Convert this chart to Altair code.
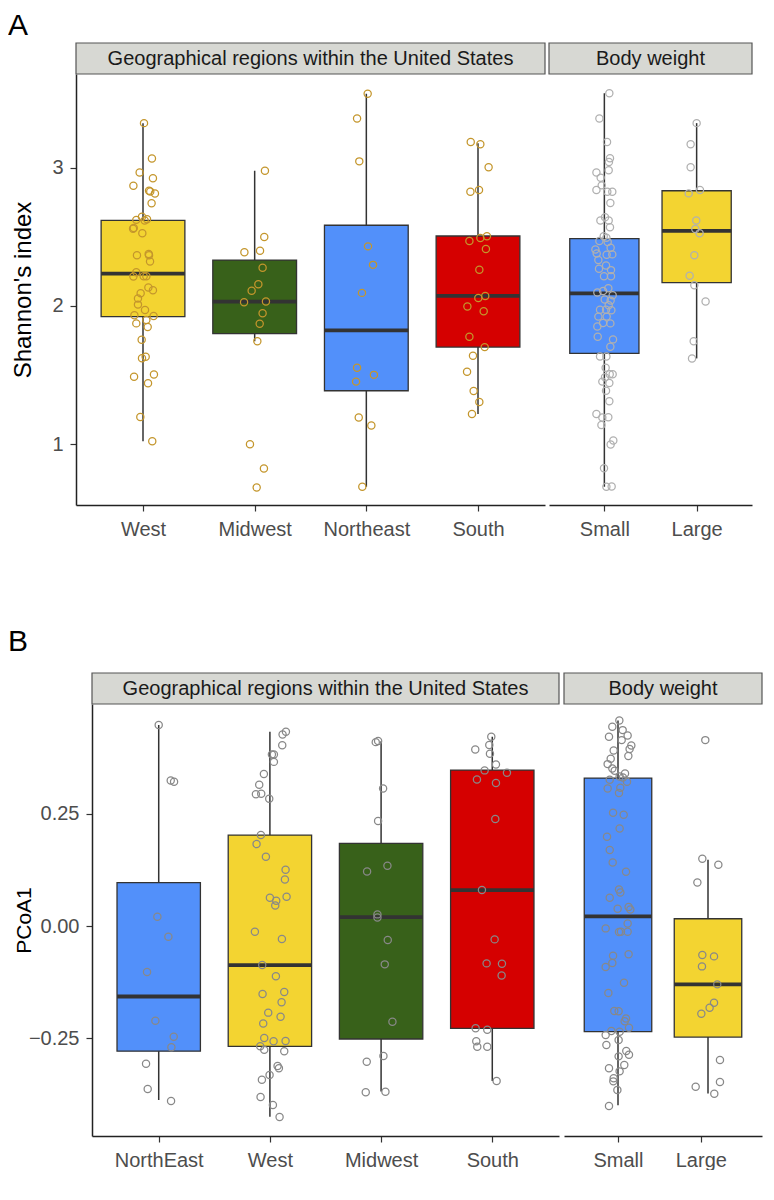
import json
import altair as alt
import pandas as pd

FONT = "Liberation Sans"

# ---------------- Panel A : Shannon's index ----------------
a_geo_cats = ["West", "Midwest", "Northeast", "South"]
a_bw_cats = ["Small", "Large"]

a_west_y = [3.325, 3.068, 2.968, 2.925, 2.871, 2.835, 2.83, 2.815, 2.745, 2.646,
            2.624, 2.629, 2.62, 2.565, 2.56, 2.527, 2.367, 2.376, 2.367, 2.323,
            2.245, 2.214, 2.215, 2.215, 2.134, 2.114, 2.092, 2.054, 2.01, 1.971,
            1.933, 1.928, 1.874, 1.899, 1.848, 1.755, 1.622, 1.632, 1.488, 1.503,
            1.44, 1.195, 1.02]
a_west_jit = [0.009, 0.080, -0.030, 0.089, -0.086, 0.054, 0.065, 0.107, 0.077, -0.009,
              -0.060, 0.036, 0.015, -0.083, -0.089, -0.006, -0.054, 0.051, 0.054, 0.063,
              -0.060, -0.086, 0.006, 0.030, 0.048, 0.089, -0.021, -0.045, -0.045, 0.018,
              -0.077, 0.095, -0.060, 0.030, 0.042, -0.012, -0.009, 0.024, -0.080, 0.098,
              0.045, -0.024, 0.083]
a_midwest_y = [2.98, 2.50, 2.389, 2.401, 2.277, 2.158, 2.11, 2.027, 2.032, 1.947,
               1.872, 1.745, 0.998, 0.823, 0.685]
a_midwest_jit = [0.092, 0.086, -0.092, 0.048, 0.071, 0.033, -0.027, -0.095, 0.101, 0.071,
                 0.045, 0.024, -0.042, 0.083, 0.018]
a_northeast_y = [3.538, 3.359, 3.048, 2.432, 2.298, 2.095, 1.552, 1.501, 1.452, 1.192,
                 1.134, 0.69]
a_northeast_jit = [0.012, -0.083, -0.063, 0.015, 0.060, -0.039, -0.083, 0.068, -0.092, -0.068,
                   0.045, -0.036]
a_south_y = [3.189, 3.172, 3.005, 2.828, 2.84, 2.471, 2.493, 2.505, 2.413, 2.262,
             2.058, 2.073, 1.996, 1.962, 1.777, 1.702, 1.639, 1.523, 1.384, 1.304, 1.217]
a_south_jit = [-0.065, 0.021, 0.095, -0.068, 0.009, -0.077, 0.021, 0.080, 0.071, 0.012,
               0.003, 0.065, -0.095, 0.051, -0.077, 0.060, -0.045, -0.098, -0.039, 0.012, -0.054]
a_small_y = [3.541, 3.359, 3.189, 3.07, 3.044, 2.968, 2.983, 2.929, 2.874, 2.84,
             2.828, 2.828, 2.747, 2.643, 2.619, 2.619, 2.57, 2.505, 2.495, 2.471,
             2.464, 2.41, 2.422, 2.381, 2.374, 2.372, 2.333, 2.294, 2.27, 2.26,
             2.216, 2.216, 2.129, 2.097, 2.109, 2.078, 2.047, 2.039, 2.005, 1.973,
             1.973, 1.969, 1.923, 1.923, 1.852, 1.876, 1.874, 1.777, 1.758, 1.704,
             1.634, 1.634, 1.552, 1.505, 1.505, 1.483, 1.452, 1.442, 1.386, 1.309,
             1.217, 1.192, 1.194, 1.137, 1.025, 0.996, 0.824, 0.69, 0.692]
a_small_jit = [0.054, -0.054, 0.029, 0.061, 0.050, -0.086, 0.047, -0.040, -0.029, -0.086,
               0.032, 0.086, 0.065, 0.007, -0.043, 0.047, 0.061, -0.007, 0.022, -0.054,
               0.036, -0.097, 0.068, -0.083, 0.086, 0.025, -0.065, 0.018, -0.058, 0.072,
               -0.004, 0.072, 0.043, -0.076, -0.014, 0.090, 0.004, 0.068, 0.047, -0.047,
               0.018, 0.076, -0.065, 0.025, -0.076, -0.014, 0.065, -0.072, 0.094, 0.065,
               -0.047, 0.022, 0.014, 0.058, 0.090, 0.007, -0.022, 0.054, 0.018, 0.054,
               -0.086, -0.022, 0.043, -0.032, 0.097, 0.068, -0.004, 0.022, 0.079]
a_large_y = [3.325, 3.172, 3.005, 2.816, 2.84, 2.619, 2.558, 2.527, 2.367, 2.219,
             2.151, 2.032, 1.745, 1.619]
a_large_jit = [0.0, -0.065, -0.065, -0.086, 0.036, -0.004, -0.014, 0.032, -0.025, -0.076,
               -0.025, 0.097, -0.032, -0.050]

# box statistics (lower whisker, q1, median, q3, upper whisker)
a_geo_lo = [1.02, 1.745, 0.69, 1.217]
a_geo_q1 = [1.923, 1.80, 1.386, 1.702]
a_geo_med = [2.234, 2.032, 1.823, 2.073]
a_geo_q3 = [2.62, 2.333, 2.585, 2.507]
a_geo_hi = [3.325, 2.98, 3.538, 3.18]
a_geo_fill = ["#f3d431", "#38611a", "#5290fa", "#d50000"]

a_bw_lo = [0.69, 1.62]
a_bw_q1 = [1.656, 2.17]
a_bw_med = [2.092, 2.544]
a_bw_q3 = [2.488, 2.835]
a_bw_hi = [3.541, 3.325]
a_bw_fill = ["#5290fa", "#f3d431"]

# ---------------- Panel B : PCoA1 ----------------
b_geo_cats = ["NorthEast", "West", "Midwest", "South"]
b_bw_cats = ["Small", "Large"]

b_northeast_y = [0.448, 0.3247, 0.3217, 0.0208, -0.0238, -0.1025, -0.211, -0.2466, -0.270, -0.307,
                 -0.363, -0.39]
b_northeast_jit = [0.0, 0.108, 0.138, -0.012, 0.087, -0.105, -0.030, 0.135, 0.114, -0.114,
                   -0.099, 0.111]
b_west_y = [0.433, 0.427, 0.403, 0.3826, 0.3826, 0.366, 0.3388, 0.315, 0.294, 0.2949,
            0.2838, 0.2028, 0.1827, 0.1545, 0.1255, 0.104, 0.0631, 0.0565, 0.0654, 0.046,
            -0.0126, -0.029, -0.0869, -0.112, -0.1515, -0.147, -0.170, -0.193, -0.202, -0.217,
            -0.2496, -0.257, -0.2563, -0.268, -0.276, -0.279, -0.312, -0.317, -0.332, -0.3425,
            -0.381, -0.399, -0.4257]
b_west_jit = [0.144, 0.114, 0.111, 0.018, 0.036, 0.036, -0.054, -0.096, -0.126, -0.078,
              -0.006, -0.081, -0.120, -0.036, 0.141, 0.135, 0.0, 0.057, 0.150, 0.048,
              -0.135, 0.108, -0.069, 0.054, -0.066, 0.129, 0.105, -0.015, 0.096, -0.060,
              -0.051, 0.033, 0.141, -0.087, -0.051, 0.129, 0.069, 0.081, -0.003, -0.072,
              -0.084, 0.027, 0.087]
b_midwest_y = [0.410, 0.4123, 0.3068, 0.234, 0.1218, 0.1345, 0.026, 0.0193, -0.0312, -0.0854,
               -0.2132, -0.2897, -0.3024, -0.3707, -0.3692]
b_midwest_jit = [-0.048, -0.027, 0.018, -0.027, -0.126, 0.057, -0.033, -0.033, 0.060, 0.033,
                 0.102, 0.021, -0.129, -0.138, 0.039]
b_south_y = [0.4219, 0.3937, 0.4034, 0.384, 0.3603, 0.347, 0.3417, 0.3269, 0.3187, 0.2385,
             0.0802, -0.0297, -0.0832, -0.084, -0.11, -0.228, -0.231, -0.257, -0.269, -0.269,
             -0.3455]
b_south_jit = [-0.009, -0.153, -0.027, -0.021, 0.033, -0.069, 0.132, -0.138, 0.033, 0.027,
               -0.093, 0.021, -0.051, 0.087, 0.084, -0.150, -0.045, -0.144, -0.135, -0.045,
               0.039]
b_small_y = [0.4584, 0.4442, 0.4368, 0.422, 0.425, 0.4145, 0.4027, 0.3945, 0.3915, 0.3789,
             0.373, 0.361, 0.3514, 0.3462, 0.3402, 0.3335, 0.3261, 0.3313, 0.3068, 0.3216,
             0.3083, 0.2964, 0.2526, 0.2481, 0.2177, 0.1991, 0.1694, 0.1419, 0.1211, 0.0817,
             0.075, 0.0631, 0.0386, 0.0423, 0.0371, -0.0052, -0.0126, 0.0059, -0.0126, -0.0134,
             -0.066, -0.063, -0.0914, -0.0825, -0.1263, -0.149, -0.1894, -0.19, -0.206, -0.212,
             -0.2266, -0.2429, -0.234, -0.2355, -0.2541, -0.2652, -0.2786, -0.2868, -0.2905, -0.3098,
             -0.3172, -0.3239, -0.3395, -0.3462, -0.3655, -0.4012]
b_small_jit = [0.015, -0.063, 0.052, -0.100, 0.107, 0.041, 0.148, 0.129, -0.048, 0.115,
               -0.081, -0.115, -0.063, -0.037, 0.078, 0.018, -0.092, 0.055, -0.115, 0.100,
               0.026, 0.011, -0.055, 0.063, 0.018, -0.122, -0.092, -0.059, 0.089, 0.011,
               0.026, -0.092, -0.004, 0.118, 0.137, -0.137, 0.033, 0.107, 0.107, 0.011,
               -0.055, 0.118, -0.137, -0.063, 0.067, -0.107, -0.041, 0.007, 0.089, 0.074,
               0.122, -0.137, -0.074, 0.018, 0.007, -0.129, 0.092, 0.122, 0.007, 0.070,
               -0.100, 0.018, -0.048, -0.052, -0.007, -0.100]
b_large_y = [0.4145, 0.15, 0.1367, 0.0973, -0.0646, -0.0676, -0.0899, -0.13, -0.1709, -0.182,
             -0.1954, -0.2986, -0.3477, -0.3581, -0.3737]
b_large_jit = [-0.030, -0.063, 0.115, -0.118, -0.063, 0.067, -0.067, 0.103, 0.067, 0.018,
               -0.074, 0.133, 0.133, -0.137, 0.070]

b_geo_lo = [-0.388, -0.425, -0.369, -0.3455]
b_geo_q1 = [-0.279, -0.268, -0.2518, -0.228]
b_geo_med = [-0.157, -0.0869, 0.0201, 0.0802]
b_geo_q3 = [0.0966, 0.2028, 0.1843, 0.3477]
b_geo_hi = [0.448, 0.433, 0.412, 0.4219]
b_geo_fill = ["#5290fa", "#f3d431", "#38611a", "#d50000"]

b_bw_lo = [-0.3997, -0.373]
b_bw_q1 = [-0.2355, -0.2474]
b_bw_med = [0.0215, -0.13]
b_bw_q3 = [0.3298, 0.0163]
b_bw_hi = [0.4584, 0.1478]
b_bw_fill = ["#5290fa", "#f3d431"]

GOLD = "#c4962c"
LIGHT_GRAY = "#b0b0b0"
MID_GRAY = "#888888"
DARK = "#333333"


def panel(cats, ys, jits, lo, q1, med, q3, hi, fills, domain, ticks, fmt,
          w, h, strip, pt_color, y_title=None, title_x=None, title_size=24,
          letter=None, letter_x=None, letter_y=None, tick_pos=None):
    n = len(cats)
    rows = []
    for i, (yy, jj) in enumerate(zip(ys, jits)):
        for v, j in zip(yy, jj):
            rows.append({"pos": i, "y": v, "jit": j})
    pts = pd.DataFrame(rows)
    boxes = pd.DataFrame({"pos": list(range(n)), "lo": lo, "q1": q1, "med": med,
                          "q3": q3, "hi": hi, "fill": fills})

    if tick_pos is None:
        tick_pos = list(range(n))
    xs = alt.Scale(domain=[-0.6, n - 0.4], nice=False, zero=False)
    ysc = alt.Scale(domain=domain, nice=False, zero=False)
    xaxis = alt.Axis(values=tick_pos,
                     labelExpr=json.dumps(cats) + "[round(datum.value)]",
                     title=None, grid=False, domainColor="#222222", domainWidth=1.5,
                     tickColor=DARK, tickWidth=1.2, tickSize=6, labelPadding=8,
                     labelFontSize=20, labelColor="#4d4d4d", labelFont=FONT)
    if y_title is not None:
        yaxis = alt.Axis(values=ticks, format=fmt, title=y_title, grid=False,
                         domainColor="#222222", domainWidth=1.5, tickColor=DARK,
                         tickWidth=1.2, tickSize=6, labelPadding=7, labelFontSize=20,
                         labelColor="#4d4d4d", labelFont=FONT, titleFont=FONT,
                         titleFontSize=title_size, titleFontWeight="normal",
                         titleColor="#000000", titleAngle=270, titleAlign="center",
                         titleBaseline="alphabetic", titleX=title_x, titleY=h / 2)
    else:
        yaxis = None

    X = lambda f: alt.X(f, scale=xs, axis=xaxis)
    Y = lambda f: alt.Y(f, scale=ysc, axis=yaxis)

    lab = pd.DataFrame({"t": [strip]})
    strip_rect = alt.Chart(lab).mark_rect(fill="#d7d8d3", stroke="#555555", strokeWidth=1.2).encode(
        x=alt.value(0), x2=alt.value(w), y=alt.value(-31), y2=alt.value(0))
    strip_text = alt.Chart(lab).mark_text(fontSize=20, font=FONT, color="#1a1a1a",
                                          baseline="middle", align="center").encode(
        x=alt.value(w / 2), y=alt.value(-15), text="t:N")

    bb = alt.Chart(boxes).transform_calculate(x1="datum.pos - 0.375", x2="datum.pos + 0.375")
    whisk = bb.mark_rule(color=DARK, strokeWidth=1.5).encode(x=X("pos:Q"), y=Y("lo:Q"), y2="hi:Q")
    box = bb.mark_rect(stroke=DARK, strokeWidth=1.3).encode(
        x=X("x1:Q"), x2="x2:Q", y=Y("q1:Q"), y2="q3:Q", fill=alt.Fill("fill:N", scale=None))
    medl = bb.mark_rule(color=DARK, strokeWidth=3.8).encode(x=X("x1:Q"), x2="x2:Q", y=Y("med:Q"))
    dots = alt.Chart(pts).transform_calculate(px="datum.pos + datum.jit").mark_point(
        shape="circle", filled=False, size=52, strokeWidth=1.25, color=pt_color, opacity=1).encode(
        x=X("px:Q"), y=Y("y:Q"))

    layers = [strip_rect, strip_text, whisk, box, medl, dots]
    if letter is not None:
        lt = alt.Chart(pd.DataFrame({"t": [letter]})).mark_text(
            fontSize=30, font=FONT, color="#000000", align="left", baseline="alphabetic").encode(
            x=alt.value(letter_x), y=alt.value(letter_y), text="t:N")
        layers.append(lt)
    return alt.layer(*layers).properties(width=w, height=h)


A_DOMAIN = [0.558, 3.681]
B_DOMAIN = [-0.468, 0.495]

A1 = panel(a_geo_cats, [a_west_y, a_midwest_y, a_northeast_y, a_south_y],
           [a_west_jit, a_midwest_jit, a_northeast_jit, a_south_jit],
           a_geo_lo, a_geo_q1, a_geo_med, a_geo_q3, a_geo_hi, a_geo_fill,
           A_DOMAIN, [1, 2, 3], "d", 469, 431,
           "Geographical regions within the United States", GOLD,
           y_title="Shannon's index", title_x=-46, title_size=24,
           letter="A", letter_x=-68, letter_y=-39)
A2 = panel(a_bw_cats, [a_small_y, a_large_y], [a_small_jit, a_large_jit],
           a_bw_lo, a_bw_q1, a_bw_med, a_bw_q3, a_bw_hi, a_bw_fill,
           A_DOMAIN, [1, 2, 3], "d", 203, 431, "Body weight", LIGHT_GRAY)

B1 = panel(b_geo_cats, [b_northeast_y, b_west_y, b_midwest_y, b_south_y],
           [b_northeast_jit, b_west_jit, b_midwest_jit, b_south_jit],
           b_geo_lo, b_geo_q1, b_geo_med, b_geo_q3, b_geo_hi, b_geo_fill,
           B_DOMAIN, [-0.25, 0.0, 0.25], ".2f", 467, 432,
           "Geographical regions within the United States", MID_GRAY,
           y_title="PCoA1", title_x=-62, title_size=21,
           letter="B", letter_x=-84, letter_y=-53)
B2 = panel(b_bw_cats, [b_small_y, b_large_y], [b_small_jit, b_large_jit],
           b_bw_lo, b_bw_q1, b_bw_med, b_bw_q3, b_bw_hi, b_bw_fill,
           B_DOMAIN, [-0.25, 0.0, 0.25], ".2f", 198, 432, "Body weight", MID_GRAY,
           tick_pos=[0, 0.92])

# invisible spacer so that panel B's plot area starts further right than panel A's
spacer = alt.Chart(pd.DataFrame({"s": [0]})).mark_point(opacity=0).encode(
    x=alt.value(0), y=alt.value(0)).properties(width=11, height=432)

top = alt.hconcat(A1, A2, spacing=4, bounds="flush")
bottom = alt.hconcat(spacer, B1, B2, spacing=5, bounds="flush")

chart = alt.vconcat(top, bottom, spacing=88,
                    padding={"top": 3, "left": 0, "right": 0, "bottom": 0}).configure(
    font=FONT, background="white").configure_view(stroke="transparent", strokeWidth=0)

chart.save("out.html", embed_options={"renderer": "svg", "actions": False})
